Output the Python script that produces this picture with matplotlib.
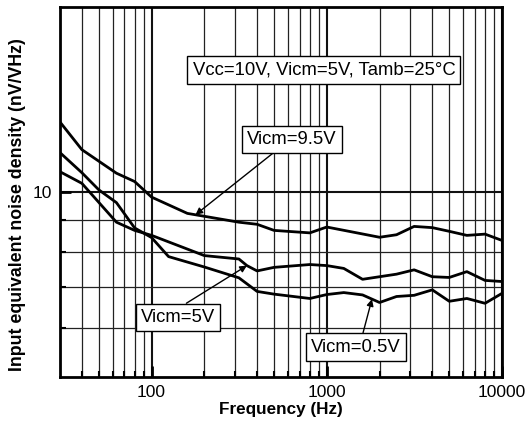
import numpy as np
import matplotlib
matplotlib.use("Agg")
import matplotlib.pyplot as plt
from matplotlib.ticker import FixedLocator, NullFormatter, FixedFormatter

plt.rcParams['font.family'] = ['Liberation Sans', 'DejaVu Sans']

# noise density curves (nV/VHz) vs frequency (Hz)
freq_95 = [30, 40, 63, 80, 100, 160, 315, 400, 500, 800, 1000, 2000, 2500,
           3150, 4000, 5000, 6300, 8000, 10000]
noise_95 = [13.0, 11.72, 10.73, 10.40, 9.81, 9.23, 8.93, 8.86, 8.66, 8.58,
            8.77, 8.44, 8.52, 8.79, 8.75, 8.63, 8.50, 8.54, 8.34]

freq_5 = [30, 40, 63, 80, 100, 200, 315, 350, 400, 500, 800, 1000, 1250,
          1600, 2000, 2500, 3150, 4000, 5000, 6300, 8000, 10000]
noise_5 = [10.79, 10.33, 8.93, 8.66, 8.50, 7.88, 7.78, 7.59, 7.44, 7.54,
           7.62, 7.59, 7.51, 7.21, 7.28, 7.35, 7.47, 7.28, 7.26, 7.42, 7.18, 7.15]

freq_05 = [30, 40, 50, 63, 80, 100, 125, 200, 315, 400, 500, 800, 1000,
           1250, 1600, 2000, 2500, 3150, 4000, 5000, 6300, 8000, 10000]
noise_05 = [11.59, 10.75, 10.08, 9.61, 8.74, 8.43, 7.85, 7.55, 7.25, 6.89,
            6.82, 6.71, 6.81, 6.86, 6.80, 6.61, 6.76, 6.79, 6.93, 6.64, 6.71,
            6.59, 6.84]

x_major = [100, 1000, 10000]
x_minor = [40, 50, 60, 70, 80, 90, 200, 300, 400, 500, 600, 700, 800, 900,
           2000, 3000, 4000, 5000, 6000, 7000, 8000, 9000]
y_major = [10]
y_minor = [6, 7, 8, 9]


def on_curve(f, fx, ny):
    # log-log interpolation so arrow tips sit on the drawn line
    return 10 ** np.interp(np.log10(f), np.log10(fx), np.log10(ny))


fig = plt.figure(figsize=(5.28, 4.28), dpi=100)
ax = fig.add_axes([0.1136, 0.1192, 0.8372, 0.8644])

ax.set_xscale('log')
ax.set_yscale('log')
ax.set_xlim(30, 10000)
ax.set_ylim(5, 20)

ax.xaxis.set_major_locator(FixedLocator(x_major))
ax.xaxis.set_major_formatter(FixedFormatter([str(v) for v in x_major]))
ax.xaxis.set_minor_locator(FixedLocator(x_minor))
ax.xaxis.set_minor_formatter(NullFormatter())
ax.yaxis.set_major_locator(FixedLocator(y_major))
ax.yaxis.set_major_formatter(FixedFormatter([str(v) for v in y_major]))
ax.yaxis.set_minor_locator(FixedLocator(y_minor))
ax.yaxis.set_minor_formatter(NullFormatter())

ax.grid(which='major', color='#111111', lw=1.5)
ax.grid(which='minor', color='#222222', lw=0.9)
ax.tick_params(which='major', direction='in', length=8, width=2,
               labelsize=12.5, pad=6)
ax.tick_params(which='minor', direction='in', length=4, width=1.5)
for s in ax.spines.values():
    s.set_linewidth(2)
    s.set_zorder(5)

for fx, ny in [(freq_95, noise_95), (freq_5, noise_5), (freq_05, noise_05)]:
    ax.plot(fx, ny, color='black', lw=2, zorder=4)

ax.set_xlabel('Frequency (Hz)', fontsize=12.3, fontweight='bold', labelpad=1)
ax.set_ylabel('Input equivalent noise density (nV/VHz)', fontsize=12.8,
              fontweight='bold')
ax.yaxis.set_label_coords(-0.077, 0.466)

box = dict(boxstyle='square,pad=0.28', fc='white', ec='black', lw=1)
arrow = dict(arrowstyle='-|>', color='black', lw=1, mutation_scale=10,
             shrinkA=0, shrinkB=0)

ax.text(0.597, 0.830, 'Vcc=10V, Vicm=5V, Tamb=25°C', transform=ax.transAxes,
        fontsize=13.3, ha='center', va='center', bbox=box, zorder=6)

ax.annotate('Vicm=9.5V', xy=(178, on_curve(178, freq_95, noise_95)),
            xytext=(0.525, 0.642), textcoords='axes fraction',
            fontsize=13.3, ha='center', va='center', bbox=box, zorder=6,
            arrowprops=dict(arrow, relpos=(0.36, 0)))
ax.annotate('Vicm=5V', xy=(350, on_curve(350, freq_5, noise_5)),
            xytext=(0.267, 0.161), textcoords='axes fraction',
            fontsize=13.3, ha='center', va='center', bbox=box, zorder=6,
            arrowprops=dict(arrow, relpos=(0.49, 1)))
ax.annotate('Vicm=0.5V', xy=(1810, on_curve(1810, freq_05, noise_05)),
            xytext=(0.670, 0.081), textcoords='axes fraction',
            fontsize=13.3, ha='center', va='center', bbox=box, zorder=6,
            arrowprops=dict(arrow, relpos=(0.56, 1)))

fig.savefig('out.png', dpi=100)
